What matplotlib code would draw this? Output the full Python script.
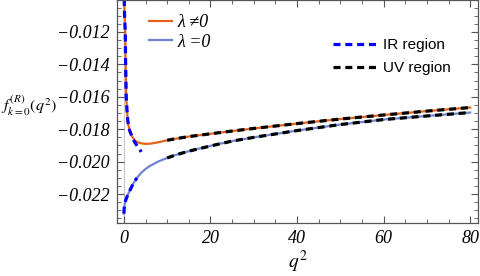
import matplotlib
matplotlib.use("Agg")
import matplotlib.pyplot as plt
from matplotlib.ticker import MultipleLocator, FuncFormatter

# waardes afgelees van die prent
q_lam = [0.05, 0.07, 0.15, 0.3, 0.4, 0.53, 0.8, 1.0, 1.35, 2, 2.5, 3, 4, 5, 6, 7, 8, 10, 12, 15, 20,
         25, 30, 40, 50, 60, 70, 80]
f_lam = [-0.0090, -0.0100, -0.0110, -0.0120, -0.0140, -0.0160, -0.0172, -0.0177, -0.0181, -0.01850,
         -0.01868, -0.01878, -0.01887, -0.01890, -0.01889, -0.01885, -0.01880, -0.01868, -0.01858,
         -0.01845, -0.01828, -0.01811, -0.01795, -0.01765, -0.01737, -0.01712, -0.01688, -0.01666]

q_zero = [0.0, 0.05, 0.2, 0.4, 0.7, 1.0, 1.5, 2.0, 2.5, 3, 4, 5, 6, 8, 10, 12, 15, 17.6, 21, 25, 30,
          40, 50, 60, 70, 80]
f_zero = [-0.0232, -0.0229, -0.0226, -0.02238, -0.02217, -0.02198, -0.02170, -0.02143, -0.02120,
          -0.02100, -0.02068, -0.02045, -0.02026, -0.01998, -0.01977, -0.01958, -0.01935, -0.01918,
          -0.01896, -0.01873, -0.01850, -0.01808, -0.01771, -0.01740, -0.01718, -0.01697]

# IR benadering
q_ir_lam = [0.05, 0.07, 0.15, 0.3, 0.4, 0.53, 0.8, 1.0, 1.35, 2, 2.5, 3, 3.5, 4]
f_ir_lam = [-0.0090, -0.0100, -0.0110, -0.0120, -0.0140, -0.0160, -0.0172, -0.0177, -0.0181, -0.01855,
            -0.0188, -0.0190, -0.01918, -0.01940]
q_ir_zero = [0.0, 0.05, 0.2, 0.4, 0.7, 1.0, 1.5, 2.0, 2.5, 3]
f_ir_zero = [-0.0232, -0.0229, -0.0226, -0.02238, -0.02217, -0.02198, -0.02170, -0.02143, -0.02120,
             -0.02100]

# UV benadering
q_uv = [10, 12, 15, 20, 25, 30, 40, 50, 60, 70, 80]
f_uv_lam = [-0.01868, -0.01858, -0.01845, -0.01828, -0.01811, -0.01795, -0.01765, -0.01737, -0.01712,
            -0.01688, -0.01666]
f_uv_zero = [-0.01977, -0.01958, -0.01935, -0.01903, -0.01873, -0.0185, -0.01808, -0.01771, -0.0174,
             -0.01718, -0.01697]

plt.rcParams['mathtext.fontset'] = 'stix'

fig = plt.figure(figsize=(4.8, 2.76), dpi=100)
ax = fig.add_axes([117/480, 1 - 223/276, 361/480, 223/276])

ax.axvline(0, color='#c8c8c8', lw=0.8, zorder=0)

l1, = ax.plot(q_lam, f_lam, color='#E5621B', lw=1.6)
l2, = ax.plot(q_zero, f_zero, color='#6F84D0', lw=1.6)
ir, = ax.plot(q_ir_lam, f_ir_lam, color='#0000FF', lw=2.3, dashes=(2.2, 1.5))
ax.plot(q_ir_zero, f_ir_zero, color='#0000FF', lw=2.3, dashes=(2.2, 1.5))
uv, = ax.plot(q_uv, f_uv_lam, color='black', lw=2.3, dashes=(2.2, 1.5))
ax.plot(q_uv, f_uv_zero, color='black', lw=2.3, dashes=(2.2, 1.5))

ax.set_xlim(-1.6, 81.8)
ax.set_ylim(-0.02378, -0.01003)

ax.xaxis.set_major_locator(MultipleLocator(20))
ax.xaxis.set_minor_locator(MultipleLocator(5))
ax.yaxis.set_major_locator(MultipleLocator(0.002))
ax.yaxis.set_minor_locator(MultipleLocator(0.0005))
ax.yaxis.set_major_formatter(FuncFormatter(lambda v, p: ('%.3f' % v).replace('-', '\u2212')))
ax.tick_params(which='both', direction='in', top=True, right=True, color='#555555')
ax.tick_params(which='major', length=5, width=0.8, pad=5)
ax.tick_params(which='minor', length=3, width=0.6)
for lab in ax.get_xticklabels() + ax.get_yticklabels():
    lab.set_fontfamily('Liberation Serif')
    lab.set_fontstyle('italic')
    lab.set_fontsize(13)
for s in ax.spines.values():
    s.set_color('#555555')
    s.set_linewidth(0.9)

ax.set_xlabel(r'$q^2$', fontsize=14, va='center')
ax.xaxis.set_label_coords(0.5, -0.175)
ax.set_ylabel(r'$f^{(R)}_{k=0}(q^2)$', fontsize=11.5, rotation=0, ha='center', va='center')
ax.yaxis.set_label_coords(-0.244, 0.525)

leg1 = ax.legend([l1, l2], ['λ ≠0', 'λ =0'], loc='upper left', bbox_to_anchor=(0.045, 1.01),
                 frameon=False, handlelength=1.25, handletextpad=0.3, labelspacing=0.15,
                 prop={'family': ['Liberation Serif', 'DejaVu Serif'], 'style': 'italic', 'size': 13})
ax.add_artist(leg1)
ax.legend([ir, uv], ['IR region', 'UV region'], loc='upper left', bbox_to_anchor=(0.56, 0.89),
          frameon=False, handlelength=3.0, handletextpad=0.3, labelspacing=0.6,
          prop={'family': 'Liberation Sans', 'size': 11})

fig.savefig('out.png', dpi=100)
